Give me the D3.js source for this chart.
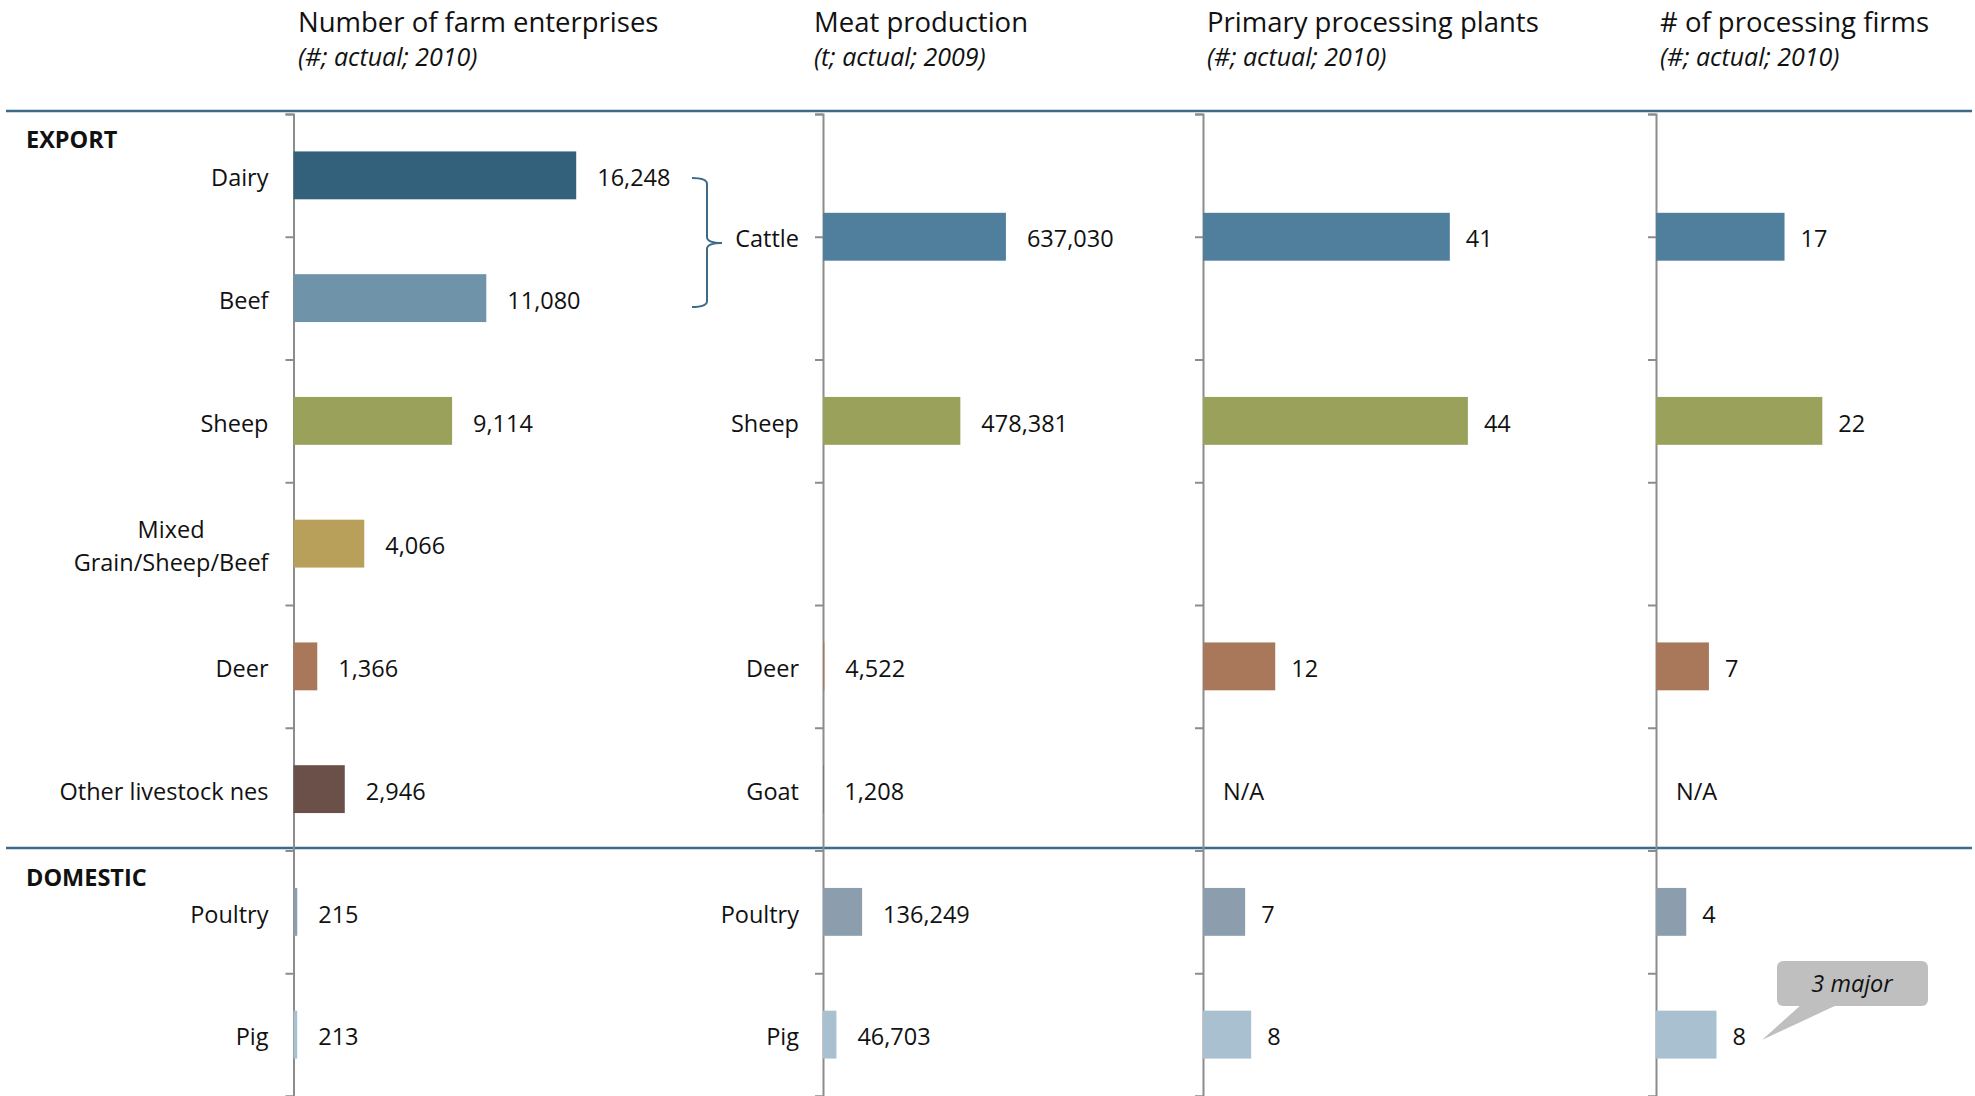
<!DOCTYPE html>
<html>
<head>
<meta charset="utf-8">
<script src="https://cdn.jsdelivr.net/npm/d3@7"></script>
<style>
  html, body { margin: 0; padding: 0; background: #fff; }
  svg { display: block; }
  text { font-family: 'Open Sans', sans-serif; fill: #111; }
</style>
</head>
<body>
<svg id="chart" width="1975" height="1096"></svg>
<script>
// ---- data ----
const rows = ["Dairy", "Beef", "Sheep", "Mixed", "Deer", "Other", "Poultry", "Pig"];

// Panel 1: number of farm enterprises (2010)
const farmCategories = ["Dairy", "Beef", "Sheep", "Mixed\nGrain/Sheep/Beef", "Deer", "Other livestock nes", "Poultry", "Pig"];
const farmValues = [16248, 11080, 9114, 4066, 1366, 2946, 215, 213];
const farmColors = ["#33607a", "#6f93a9", "#99a15a", "#b89f5a", "#a9775a", "#6b5049", "#8c9dae", "#a8c0d0"];

// Panels 2-4 share the species rows; Cattle spans the Dairy + Beef rows
const speciesRows = ["Cattle", "Sheep", "Deer", "Other", "Poultry", "Pig"];
const meatCategories = ["Cattle", "Sheep", "Deer", "Goat", "Poultry", "Pig"];
const meatValues = [637030, 478381, 4522, 1208, 136249, 46703];
const plantValues = [41, 44, 12, null, 7, 8];
const firmValues = [17, 22, 7, null, 4, 8];
const speciesColors = ["#507f9e", "#99a15a", "#a9775a", "#6b5049", "#8c9dae", "#a8c0d0"];

const titles = ["Number of farm enterprises", "Meat production", "Primary processing plants", "# of processing firms"];
const subtitles = ["(#; actual; 2010)", "(t; actual; 2009)", "(#; actual; 2010)", "(#; actual; 2010)"];
const sections = ["EXPORT", "DOMESTIC"];
const calloutText = "3 major";

// ---- layout ----
const svg = d3.select("#chart");
const fmt = d3.format(",");
const FS = 23.5;
const TEXT_SHIFT = 2.5; // nudges row labels onto the visual centre of the bars

const y = d3.scaleBand().domain(rows).range([114, 1096]).paddingInner(0.61).paddingOuter(0.305);
const bw = y.bandwidth();
const rowCenter = key => key === "Cattle"
  ? (y("Dairy") + y("Beef")) / 2 + bw / 2
  : y(key) + bw / 2;

const panels = [
  { axisX: 293.5, titleX: 298, labelGap: 25, valueGap: 21,
    x: d3.scaleLinear().domain([0, 20000]).range([0, 348]) },
  { axisX: 823, titleX: 814, labelGap: 24, valueGap: 21,
    x: d3.scaleLinear().domain([0, 700000]).range([0, 201]) },
  { axisX: 1203, titleX: 1207, valueGap: 16,
    x: d3.scaleLinear().domain([0, 50]).range([0, 301]) },
  { axisX: 1656, titleX: 1660, valueGap: 16,
    x: d3.scaleLinear().domain([0, 25]).range([0, 189]) }
];

// titles
panels.forEach((p, i) => {
  svg.append("text").attr("x", p.titleX).attr("y", 32)
    .style("font-size", "27.5px").text(titles[i]);
  svg.append("text").attr("x", p.titleX).attr("y", 66)
    .style("font-size", "25px").style("font-style", "italic").text(subtitles[i]);
});

// section separators
const lineColor = "#3c6b8a";
[111, 848].forEach(yy => {
  svg.append("line").attr("x1", 6).attr("x2", 1972).attr("y1", yy).attr("y2", yy)
    .attr("stroke", lineColor).attr("stroke-width", 2.5);
});
svg.append("text").attr("x", 26).attr("y", 148).style("font-size", FS + "px")
  .style("font-weight", "bold").text(sections[0]);
svg.append("text").attr("x", 26).attr("y", 886).style("font-size", FS + "px")
  .style("font-weight", "bold").text(sections[1]);

// category axes (row boundaries)
const boundaries = d3.range(rows.length + 1).map(i => y.range()[0] + i * y.step());
const yLin = d3.scaleLinear().domain([114, 1096]).range([114, 1096]);
panels.forEach(p => {
  const g = svg.append("g").attr("transform", `translate(${p.axisX},0)`)
    .call(d3.axisLeft(yLin).tickValues(boundaries).tickSize(8).tickFormat(""));
  g.selectAll("path, line").attr("stroke", "#8c8c8c").attr("stroke-width", 2);
});

// helper for category labels (multi-line labels are centred on one another and right-aligned as a block)
function categoryLabel(text, rightX, cy) {
  const lines = text.split("\n");
  const lh = 33;
  const g = svg.append("g");
  const nodes = lines.map((ln, k) => g.append("text")
    .attr("y", cy + TEXT_SHIFT + (k - (lines.length - 1) / 2) * lh)
    .attr("dy", "0.35em").attr("text-anchor", "middle")
    .style("font-size", FS + "px").text(ln));
  const maxW = d3.max(nodes, n => n.node().getComputedTextLength());
  nodes.forEach(n => n.attr("x", rightX - maxW / 2));
}

// bar + value label drawing
function drawBars(p, keys, values, colors) {
  const g = svg.append("g");
  keys.forEach((k, i) => {
    const cy = rowCenter(k);
    const v = values[i];
    if (v === null) {
      g.append("text").attr("x", p.axisX + 20).attr("y", cy + TEXT_SHIFT).attr("dy", "0.35em")
        .style("font-size", FS + "px").text("N/A");
      return;
    }
    const w = p.x(v);
    g.append("rect").attr("x", p.axisX).attr("y", cy - bw / 2)
      .attr("width", w).attr("height", bw).attr("fill", colors[i]);
    g.append("text").attr("x", p.axisX + w + p.valueGap).attr("y", cy + TEXT_SHIFT).attr("dy", "0.35em")
      .style("font-size", FS + "px").text(fmt(v));
  });
}

// panel 1
farmCategories.forEach((c, i) => categoryLabel(c, panels[0].axisX - panels[0].labelGap, rowCenter(rows[i])));
drawBars(panels[0], rows, farmValues, farmColors);

// panel 2
meatCategories.forEach((c, i) => categoryLabel(c, panels[1].axisX - panels[1].labelGap, rowCenter(speciesRows[i])));
drawBars(panels[1], speciesRows, meatValues, speciesColors);

// panels 3 and 4
drawBars(panels[2], speciesRows, plantValues, speciesColors);
drawBars(panels[3], speciesRows, firmValues, speciesColors);

// brace grouping Dairy + Beef into Cattle
const bTop = 178, bBot = 307, bMid = 243, bx0 = 692, bx1 = 707, bx2 = 722, r = 6;
svg.append("path")
  .attr("d", `M${bx0},${bTop} Q${bx1},${bTop} ${bx1},${bTop + r} L${bx1},${bMid - r} Q${bx1},${bMid} ${bx2},${bMid}
              Q${bx1},${bMid} ${bx1},${bMid + r} L${bx1},${bBot - r} Q${bx1},${bBot} ${bx0},${bBot}`)
  .attr("fill", "none").attr("stroke", lineColor).attr("stroke-width", 2);

// callout on pig processors
const co = svg.append("g");
co.append("path")
  .attr("d", "M1802,1004 L1839,1004 L1762,1040 Z").attr("fill", "#bfbfbf");
co.append("rect").attr("x", 1777).attr("y", 961).attr("width", 151).attr("height", 45)
  .attr("rx", 6).attr("fill", "#bfbfbf");
co.append("text").attr("x", 1852).attr("y", 992).attr("text-anchor", "middle")
  .style("font-size", FS + "px").style("font-style", "italic").text(calloutText);
</script>
</body>
</html>
